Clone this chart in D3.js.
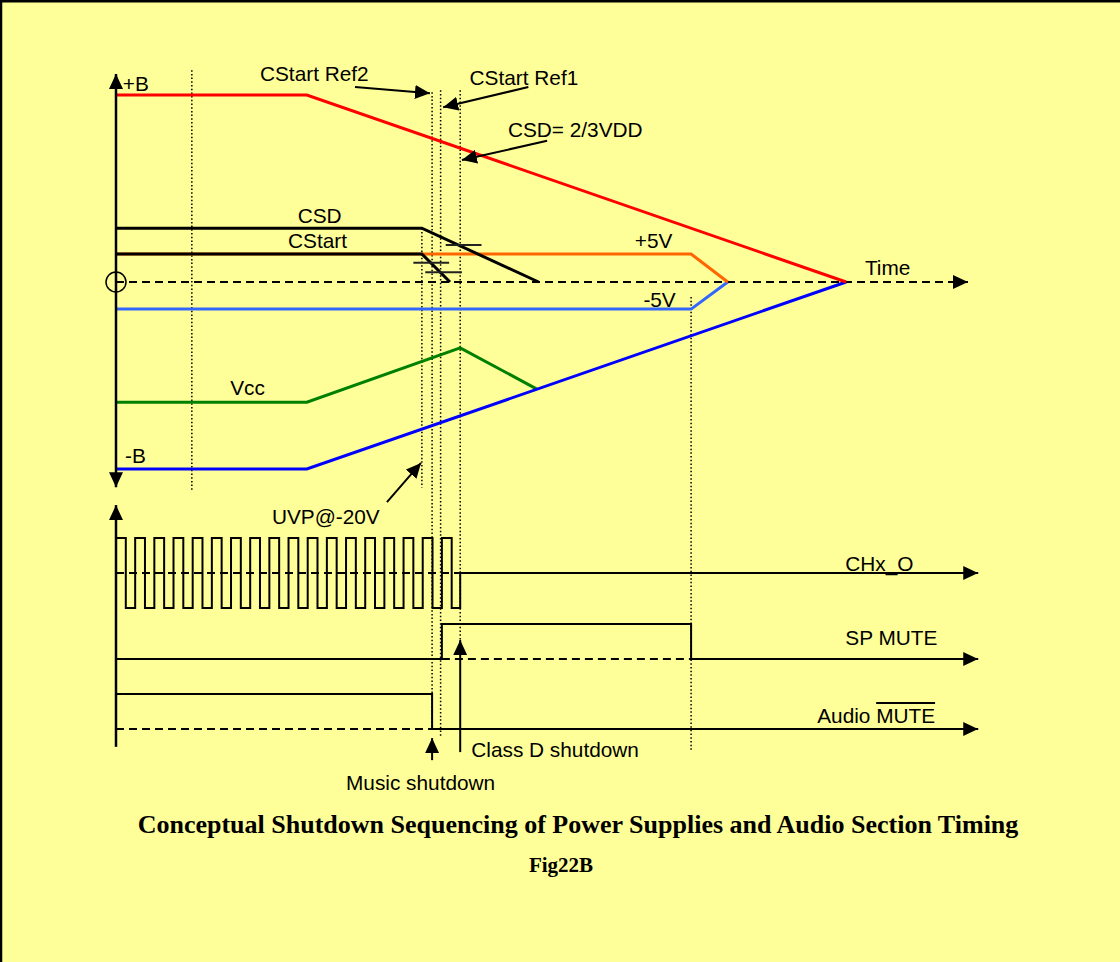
<!DOCTYPE html>
<html>
<head>
<meta charset="utf-8">
<title>Fig22B</title>
<script src="https://cdn.jsdelivr.net/npm/d3@7/dist/d3.min.js"></script>
<style>
  body { margin: 0; background: #ffff99; }
  svg { display: block; }
  .txt { font-family: 'Liberation Sans', Arial, sans-serif; font-size: 20.8px; fill: #000; }
  .title { font-family: 'Liberation Serif', 'Times New Roman', serif; font-size: 26px; font-weight: bold; text-anchor: middle; }
  .title--small { font-size: 21px; }
  .event { stroke: #000; stroke-width: 1.5; stroke-dasharray: 1.5 2.2; }
  .dashed { stroke: #000; stroke-width: 2; stroke-dasharray: 8 5; fill: none; }
  .trace { fill: none; }
</style>
</head>
<body>
<div class="chart"></div>
<script>
/* global d3 */

// supply rails, [time, volts]
const plusB = [[0, 40], [22.4, 40], [85.7, 0]]
const minusB = [[0, -40], [22.4, -40], [85.7, 0]]
const plus5V = [[0, 6], [67.5, 6], [71.8, 0]]
const minus5V = [[0, -5.8], [67.5, -5.8], [71.8, 0]]
const vcc = [[0, -25.7], [22.4, -25.7], [40.4, -14.1], [49.4, -22.9]]
const csd = [[0, 11.5], [35.9, 11.5], [49.6, 0]]
const cstart = [[0, 6], [35.9, 6], [39.2, 0]]

// comparator thresholds [t0, t1, volts]
const thresholds = [[38.7, 42.9, 7.9], [34.9, 39.1, 4.1], [36.3, 40.6, 2.1]]

// logic lanes
const lanes = ['CHx_O', 'SP MUTE', 'Audio MUTE']
const pulseStarts = [0, 2.25, 4.5, 6.75, 9, 11.25, 13.5, 15.75, 18, 20.25, 22.5, 24.75, 27, 29.25, 31.5, 33.75, 36, 38.25]
const pulseWidth = 1.15
const pwmStop = 40.4
const tEnd = 101.2
const spMute = [[0, 0], [38.25, 0], [38.25, 1], [67.5, 1], [67.5, 0], [tEnd, 0]]
const audioMute = [[0, 1], [37.1, 1], [37.1, 0], [tEnd, 0]]

// event lines: time, top (volts), bottom (volts or [lane, level])
const events = [
  { t: 8.9, top: 45.3, bottom: -44.9 },
  { t: 35.9, top: 11.5, bottom: -44 },
  { t: 37.1, top: 40.6, bottom: ['Audio MUTE', 0] },
  { t: 38.1, top: 41, bottom: ['Audio MUTE', -0.23] },
  { t: 40.4, top: 41, bottom: ['SP MUTE', 0.55] },
  { t: 67.5, top: -3.2, bottom: ['Audio MUTE', -0.6] }
]

// labels: text, [time, volts or [lane, level]], anchor
const labels = [
  ['+B', [0.8, 40.9], 'start'],
  ['CSD', [23.9, 12.6], 'middle'],
  ['CStart', [23.65, 7.3], 'middle'],
  ['+5V', [60.9, 7.3], 'start'],
  ['-5V', [61.9, -5.3], 'start'],
  ['Time', [87.9, 1.5], 'start'],
  ['Vcc', [13.4, -24.2], 'start'],
  ['-B', [1.06, -38.7], 'start'],
  ['CHx_O', [85.6, ['CHx_O', 0.06]], 'start'],
  ['SP MUTE', [85.6, ['SP MUTE', 0.4]], 'start']
]

// callouts with arrows
const callouts = [
  { text: 'CStart Ref2', at: [16.9, 43.0], from: [28.05, 41.7], to: [36.85, 40.4] },
  { text: 'CStart Ref1', at: [41.5, 42.1], from: [48.4, 41.7], to: [38.4, 37.4] },
  { text: 'CSD= 2/3VDD', at: [46.0, 31.0], from: [50.6, 30.2], to: [40.6, 26.1] },
  { text: 'UVP@-20V', at: [18.3, -51.8], from: [31.8, -47.1], to: [35.8, -38.7] },
  { text: 'Class D shutdown', at: [41.7, ['Audio MUTE', -0.8]], from: [40.4, ['Audio MUTE', -0.66]], to: [40.4, ['SP MUTE', 0.54]] },
  { text: 'Music shutdown', at: [27.0, ['Audio MUTE', -1.74]], from: [37.1, ['Audio MUTE', -0.89]], to: [37.1, ['Audio MUTE', -0.26]] }
]

const width = 1120
const height = 962

const x = d3.scaleLinear().domain([0, 100]).range([116, 968])
const y = d3.scaleLinear().domain([-40, 40]).range([469, 95])
const laneBase = d3.scaleOrdinal().domain(lanes).range([573, 659, 729])
const level = d3.scaleLinear().domain([0, 1]).range([0, -35])
const laneY = (lane, v) => laneBase(lane) + level(v)
const yAt = (p) => Array.isArray(p) ? laneY(p[0], p[1]) : y(p)

const svg = d3.select('.chart')
  .append('svg')
  .attr('width', width)
  .attr('height', height)

svg.append('defs')
  .append('marker')
  .attr('id', 'arrow')
  .attr('markerUnits', 'userSpaceOnUse')
  .attr('viewBox', '0 0 15 14')
  .attr('markerWidth', 15)
  .attr('markerHeight', 14)
  .attr('refX', 15)
  .attr('refY', 7)
  .attr('orient', 'auto-start-reverse')
  .append('path')
  .attr('d', 'M0,0L15,7L0,14Z')
  .attr('fill', '#000')

svg.append('rect')
  .attr('width', width)
  .attr('height', height)
  .attr('fill', '#ffff99')

// frame (top and left only visible)
svg.append('path')
  .attr('d', `M1,${height}V1.2H${width}`)
  .attr('fill', 'none')
  .attr('stroke', '#000')
  .attr('stroke-width', 2.5)

// dotted event lines
svg.append('g')
  .selectAll('line')
  .data(events)
  .join('line')
  .attr('class', 'event')
  .attr('x1', d => x(d.t))
  .attr('x2', d => x(d.t))
  .attr('y1', d => yAt(d.top))
  .attr('y2', d => yAt(d.bottom))

const rail = d3.line().x(d => x(d[0])).y(d => y(d[1]))

// time axis
svg.append('path')
  .attr('class', 'dashed')
  .attr('d', rail([[0, 0], [100, 0]]))
  .attr('marker-end', 'url(#arrow)')

svg.append('circle')
  .attr('cx', x(0))
  .attr('cy', y(0))
  .attr('r', 10)
  .attr('fill', 'none')
  .attr('stroke', '#000')
  .attr('stroke-width', 1.5)

const rails = [
  [minus5V, '#3366ff'],
  [plus5V, '#ff6600'],
  [vcc, '#008000'],
  [minusB, '#0000ff'],
  [plusB, '#ff0000'],
  [cstart, '#000'],
  [csd, '#000']
]

svg.append('g')
  .selectAll('path')
  .data(rails)
  .join('path')
  .attr('class', 'trace')
  .attr('d', d => rail(d[0]))
  .attr('stroke', d => d[1])
  .attr('stroke-width', 3)

svg.append('g')
  .selectAll('line')
  .data(thresholds)
  .join('line')
  .attr('x1', d => x(d[0]))
  .attr('x2', d => x(d[1]))
  .attr('y1', d => y(d[2]))
  .attr('y2', d => y(d[2]))
  .attr('stroke', '#222')
  .attr('stroke-width', 2)

// vertical axes
svg.append('path')
  .attr('d', d3.line()([[x(0), y(-43.9)], [x(0), y(44.5)]]))
  .attr('stroke', '#000')
  .attr('stroke-width', 2.5)
  .attr('marker-start', 'url(#arrow)')
  .attr('marker-end', 'url(#arrow)')

svg.append('path')
  .attr('d', d3.line()([[x(0), laneY('Audio MUTE', -0.51)], [x(0), laneY('CHx_O', 1.94)]]))
  .attr('stroke', '#000')
  .attr('stroke-width', 2.5)
  .attr('marker-end', 'url(#arrow)')

// logic traces
const chx = []
pulseStarts.forEach(s => {
  chx.push([s, -1], [s, 1], [s + pulseWidth, 1], [s + pulseWidth, -1])
})
chx.push([pwmStop, -1], [pwmStop, 0], [tEnd, 0])

const logic = (lane) => d3.line().x(d => x(d[0])).y(d => laneY(lane, d[1]))

const dashes = [
  ['CHx_O', [[0, 0], [pwmStop, 0]]],
  ['SP MUTE', [[38.25, 0], [67.5, 0]]],
  ['Audio MUTE', [[0, 0], [37.1, 0]]]
]

svg.append('g')
  .selectAll('path')
  .data(dashes)
  .join('path')
  .attr('class', 'dashed')
  .attr('d', d => logic(d[0])(d[1]))

svg.append('g')
  .selectAll('path')
  .data([['CHx_O', chx], ['SP MUTE', spMute], ['Audio MUTE', audioMute]])
  .join('path')
  .attr('class', 'trace')
  .attr('d', d => logic(d[0])(d[1]))
  .attr('stroke', '#000')
  .attr('stroke-width', 2)
  .attr('marker-end', 'url(#arrow)')

// labels
svg.append('g')
  .selectAll('text')
  .data(labels)
  .join('text')
  .attr('class', 'txt')
  .attr('x', d => x(d[1][0]))
  .attr('y', d => yAt(d[1][1]))
  .attr('text-anchor', d => d[2])
  .text(d => d[0])

// Audio MUTE with overline
const audioLabel = svg.append('text')
  .attr('class', 'txt')
  .attr('x', x(82.3))
  .attr('y', laneY('Audio MUTE', 0.17))
audioLabel.append('tspan').text('Audio ')
const muteSpan = audioLabel.append('tspan').text('MUTE')
const fullLen = audioLabel.node().getComputedTextLength()
const muteLen = muteSpan.node().getComputedTextLength()
svg.append('line')
  .attr('x1', x(82.3) + fullLen - muteLen)
  .attr('x2', x(82.3) + fullLen)
  .attr('y1', laneY('Audio MUTE', 0.17) - 20)
  .attr('y2', laneY('Audio MUTE', 0.17) - 20)
  .attr('stroke', '#000')
  .attr('stroke-width', 2)

// callouts
const pt = (p) => [x(p[0]), yAt(p[1])]

svg.append('g')
  .selectAll('path')
  .data(callouts)
  .join('path')
  .attr('d', d => d3.line()([pt(d.from), pt(d.to)]))
  .attr('stroke', '#000')
  .attr('stroke-width', 2)
  .attr('marker-end', 'url(#arrow)')

svg.append('g')
  .selectAll('text')
  .data(callouts)
  .join('text')
  .attr('class', 'txt')
  .attr('x', d => pt(d.at)[0])
  .attr('y', d => pt(d.at)[1])
  .text(d => d.text)

// titles
svg.append('text')
  .attr('class', 'title')
  .attr('x', 578)
  .attr('y', 833)
  .text('Conceptual Shutdown Sequencing of Power Supplies and Audio Section Timing')

svg.append('text')
  .attr('class', 'title title--small')
  .attr('x', 561)
  .attr('y', 872)
  .text('Fig22B')
</script>
</body>
</html>
